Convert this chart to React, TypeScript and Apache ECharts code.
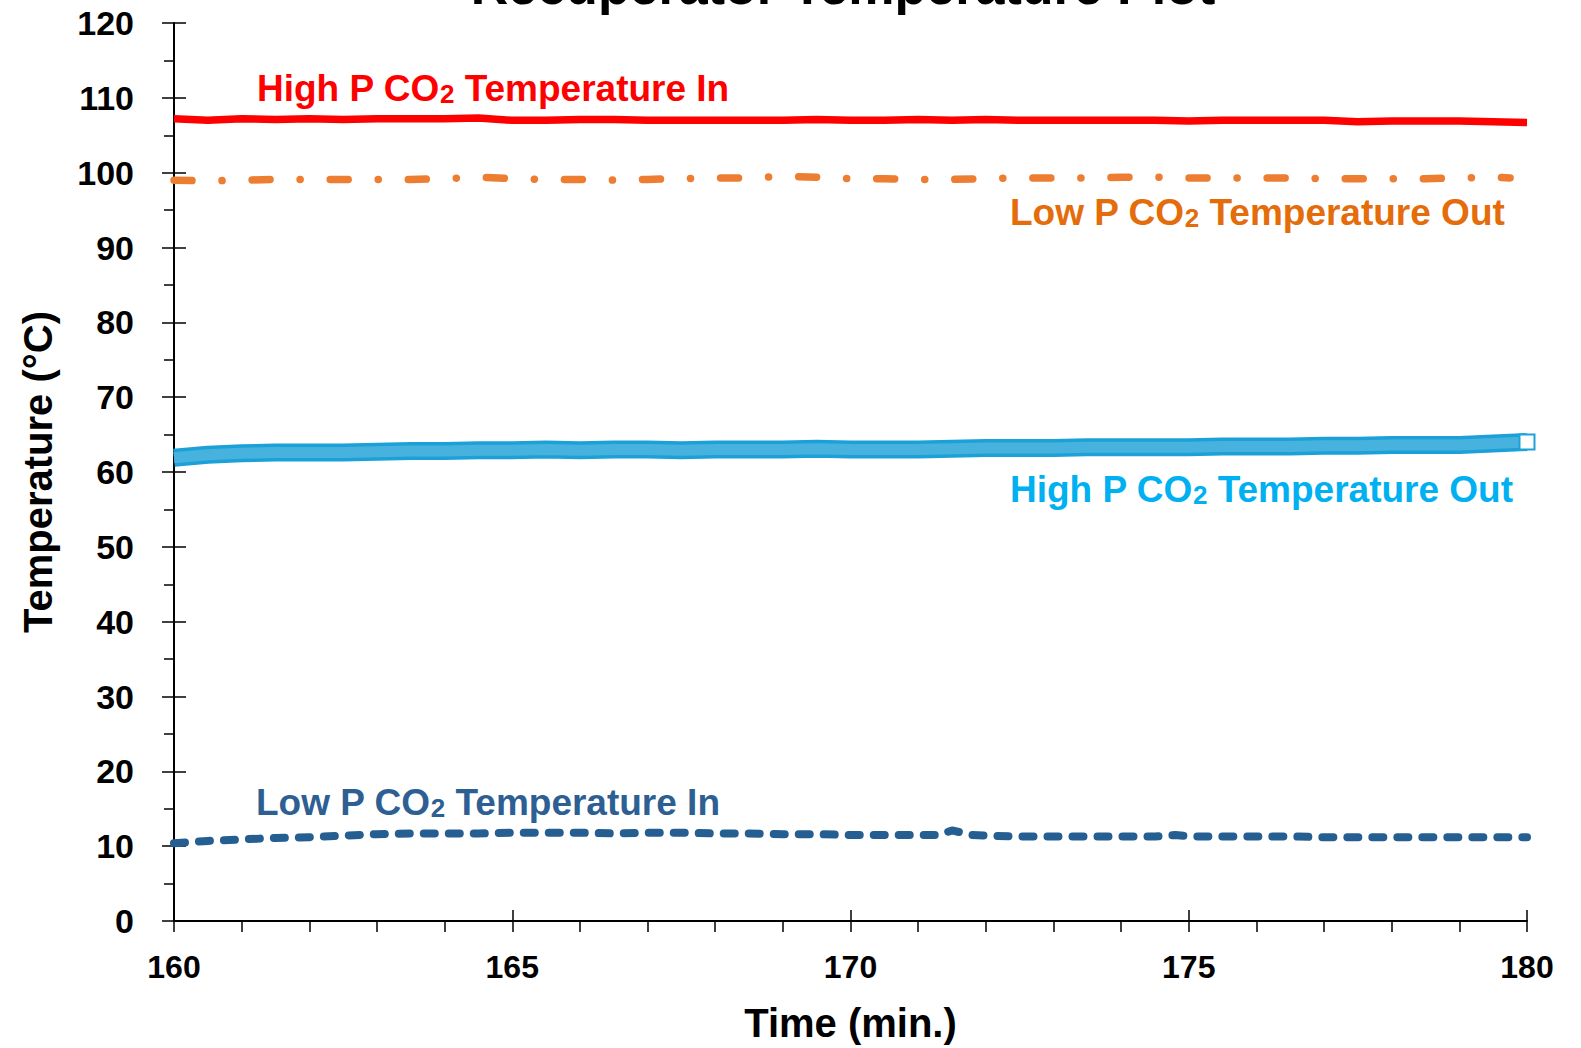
import React, { useEffect, useRef } from 'react';
import * as echarts from 'echarts';

const times = [160, 160.5, 161, 161.5, 162, 162.5, 163, 163.5, 164, 164.5, 165, 165.5, 166, 166.5, 167, 167.5, 168, 168.5, 169, 169.5, 170, 170.5, 171, 171.5, 172, 172.5, 173, 173.5, 174, 174.5, 175, 175.5, 176, 176.5, 177, 177.5, 178, 178.5, 179, 179.5, 180];

const highPIn = [107.2, 107.0, 107.2, 107.1, 107.2, 107.1, 107.2, 107.2, 107.2, 107.3, 107.0, 107.0, 107.1, 107.1, 107.0, 107.0, 107.0, 107.0, 107.0, 107.1, 107.0, 107.0, 107.1, 107.0, 107.1, 107.0, 107.0, 107.0, 107.0, 107.0, 106.9, 107.0, 107.0, 107.0, 107.0, 106.8, 106.9, 106.9, 106.9, 106.8, 106.7];

const lowPOutTimes = [160, 160.5, 161, 161.5, 162, 162.5, 163, 163.5, 164, 164.5, 165, 165.5, 166, 166.5, 167, 167.5, 168, 168.5, 169, 169.5, 170, 170.5, 171, 171.5, 172, 172.5, 173, 173.5, 174, 174.5, 175, 175.5, 176, 176.5, 177, 177.5, 178, 178.5, 179, 179.5, 179.75];
const lowPOut = [99.0, 98.9, 99.0, 99.1, 99.1, 99.1, 99.1, 99.1, 99.2, 99.4, 99.2, 99.1, 99.1, 99.0, 99.1, 99.2, 99.3, 99.3, 99.5, 99.4, 99.2, 99.2, 99.1, 99.1, 99.2, 99.3, 99.3, 99.3, 99.4, 99.4, 99.3, 99.3, 99.3, 99.3, 99.2, 99.2, 99.2, 99.2, 99.3, 99.4, 99.3];

const highPOut = [61.9, 62.3, 62.5, 62.6, 62.6, 62.6, 62.7, 62.8, 62.8, 62.9, 62.9, 63.0, 62.9, 63.0, 63.0, 62.9, 63.0, 63.0, 63.0, 63.1, 63.0, 63.0, 63.0, 63.1, 63.2, 63.2, 63.2, 63.3, 63.3, 63.3, 63.3, 63.4, 63.4, 63.4, 63.5, 63.5, 63.6, 63.6, 63.6, 63.8, 64.0];

const lowPInTimes = [160, 160.5, 161, 161.5, 162, 162.5, 163, 163.5, 164, 164.5, 165, 165.5, 166, 166.5, 167, 167.5, 168, 168.5, 169, 169.5, 170, 170.5, 171, 171.3, 171.5, 171.8, 172, 172.5, 173, 173.5, 174, 174.5, 174.8, 175, 175.5, 176, 176.5, 177, 177.5, 178, 178.5, 179, 179.5, 180];
const lowPIn = [10.4, 10.7, 10.9, 11.1, 11.2, 11.4, 11.6, 11.7, 11.7, 11.7, 11.8, 11.8, 11.8, 11.7, 11.8, 11.8, 11.7, 11.7, 11.6, 11.6, 11.5, 11.5, 11.5, 11.5, 12.1, 11.5, 11.4, 11.3, 11.3, 11.3, 11.3, 11.3, 11.5, 11.3, 11.3, 11.3, 11.3, 11.2, 11.2, 11.2, 11.2, 11.2, 11.2, 11.2];

const seriesNames = ['High P CO2 Temperature In', 'Low P CO2 Temperature Out', 'High P CO2 Temperature Out', 'Low P CO2 Temperature In'];
const labelTexts = ['High P CO{s|2} Temperature In', 'Low P CO{s|2} Temperature Out', 'High P CO{s|2} Temperature Out', 'Low P CO{s|2} Temperature In'];
const titleText = 'Recuperator Temperature Plot';
const xAxisName = 'Time (min.)';
const yAxisName = 'Temperature (°C)';

const FONT = '"Liberation Sans", Arial, sans-serif';

function pairs(xs: number[], ys: number[]) {
  return xs.map((x, i) => [x, ys[i]]);
}

function makeLabel(text: string, x: number, y: number, color: string) {
  return {
    type: 'text',
    x,
    y,
    style: {
      text,
      fill: color,
      fontSize: 37,
      fontWeight: 'bold',
      fontFamily: FONT,
      textVerticalAlign: 'middle',
      verticalAlign: 'middle',
      rich: {
        s: { fontSize: 26, fontWeight: 'bold', fontFamily: FONT, fill: color, color, verticalAlign: 'bottom' },
      },
    },
  };
}

export default function App() {
  const ref = useRef<HTMLDivElement>(null);
  useEffect(() => {
    if (!ref.current) return;
    const chart = echarts.init(ref.current, undefined, { renderer: 'svg' });
    const axisLabelStyle = { color: '#000', fontWeight: 'bold', fontFamily: FONT };
    const blueOutData: any[] = pairs(times, highPOut);
    const last = blueOutData.length - 1;
    blueOutData[last] = {
      value: blueOutData[last],
      symbol: 'rect',
      symbolSize: 15,
      itemStyle: { color: '#fff', borderColor: '#1EA3D9', borderWidth: 2 },
    };
    chart.setOption({
      animation: false,
      backgroundColor: '#fff',
      grid: { left: 174, right: 54, top: 23, bottom: 125, containLabel: false },
      xAxis: [
        {
          type: 'value', min: 160, max: 180, interval: 5,
          name: xAxisName, nameLocation: 'middle', nameGap: 82,
          nameTextStyle: { color: '#000', fontSize: 40, fontWeight: 'bold', fontFamily: FONT },
          axisLine: { show: true, onZero: false, lineStyle: { color: '#000', width: 2 } },
          axisTick: { show: true, length: 11, lineStyle: { color: '#000', width: 1.5 } },
          minorTick: { show: true, splitNumber: 5, length: 11, lineStyle: { color: '#000', width: 1.5 } },
          axisLabel: { ...axisLabelStyle, fontSize: 32, margin: 30 },
          splitLine: { show: false },
          minorSplitLine: { show: false },
        },
        {
          type: 'value', min: 160, max: 180, interval: 5, position: 'bottom',
          axisLine: { show: false, onZero: false },
          axisTick: { show: true, inside: true, length: 11, lineStyle: { color: '#000', width: 1.5 } },
          axisLabel: { show: false },
          splitLine: { show: false },
        },
      ],
      yAxis: [
        {
          type: 'value', min: 0, max: 120, interval: 10,
          name: yAxisName, nameLocation: 'middle', nameGap: 116, nameRotate: 90,
          nameTextStyle: { color: '#000', fontSize: 40, fontWeight: 'bold', fontFamily: FONT },
          axisLine: { show: true, onZero: false, lineStyle: { color: '#000', width: 2 } },
          axisTick: { show: true, length: 12, lineStyle: { color: '#000', width: 1.5 } },
          minorTick: { show: true, splitNumber: 2, length: 10, lineStyle: { color: '#000', width: 1.5 } },
          axisLabel: { ...axisLabelStyle, fontSize: 34, margin: 40 },
          splitLine: { show: false },
          minorSplitLine: { show: false },
        },
        {
          type: 'value', min: 0, max: 120, interval: 10, position: 'left',
          axisLine: { show: false, onZero: false },
          axisTick: { show: true, inside: true, length: 12, lineStyle: { color: '#000', width: 1.5 } },
          axisLabel: { show: false },
          splitLine: { show: false },
        },
      ],
      series: [
        {
          name: seriesNames[0], type: 'line', data: pairs(times, highPIn), showSymbol: false,
          lineStyle: { color: '#FF0000', width: 7.5, join: 'round' }, z: 5,
        },
        {
          name: seriesNames[1], type: 'line', data: pairs(lowPOutTimes, lowPOut), showSymbol: false,
          lineStyle: { color: '#ED7D31', width: 7.5, type: [18, 30, 0.1, 30], cap: 'round', join: 'round' }, z: 5,
        },
        {
          name: seriesNames[2], type: 'line', data: blueOutData, symbol: 'none', showSymbol: true, showAllSymbol: true,
          lineStyle: { color: '#1BA1D8', width: 18, join: 'round', cap: 'butt' }, z: 4,
        },
        {
          name: seriesNames[2], type: 'line', data: pairs(times, highPOut), showSymbol: false,
          lineStyle: { color: '#48B2DF', width: 11, join: 'round', cap: 'butt' }, z: 4, silent: true,
        },
        {
          name: seriesNames[3], type: 'line', data: pairs(lowPInTimes, lowPIn), showSymbol: false,
          lineStyle: { color: '#255E91', width: 8, type: [11, 14], cap: 'round', join: 'round' }, z: 5,
        },
      ],
      graphic: [
        {
          type: 'text', x: 843, y: 12,
          style: {
            text: titleText, fill: '#000', fontSize: 52, fontWeight: 'bold', fontFamily: FONT,
            textAlign: 'center', align: 'center', textVerticalAlign: 'bottom', verticalAlign: 'bottom',
          },
        },
        makeLabel(labelTexts[0], 257, 88, '#FF0000'),
        makeLabel(labelTexts[1], 1010, 212, '#E46C0A'),
        makeLabel(labelTexts[2], 1010, 489, '#00B0F0'),
        makeLabel(labelTexts[3], 256, 802, '#2E5F93'),
      ],
    });
    return () => chart.dispose();
  }, []);
  return <div ref={ref} style={{ position: 'fixed', left: 0, top: 0, width: 1581, height: 1048, background: '#fff' }} />;
}
